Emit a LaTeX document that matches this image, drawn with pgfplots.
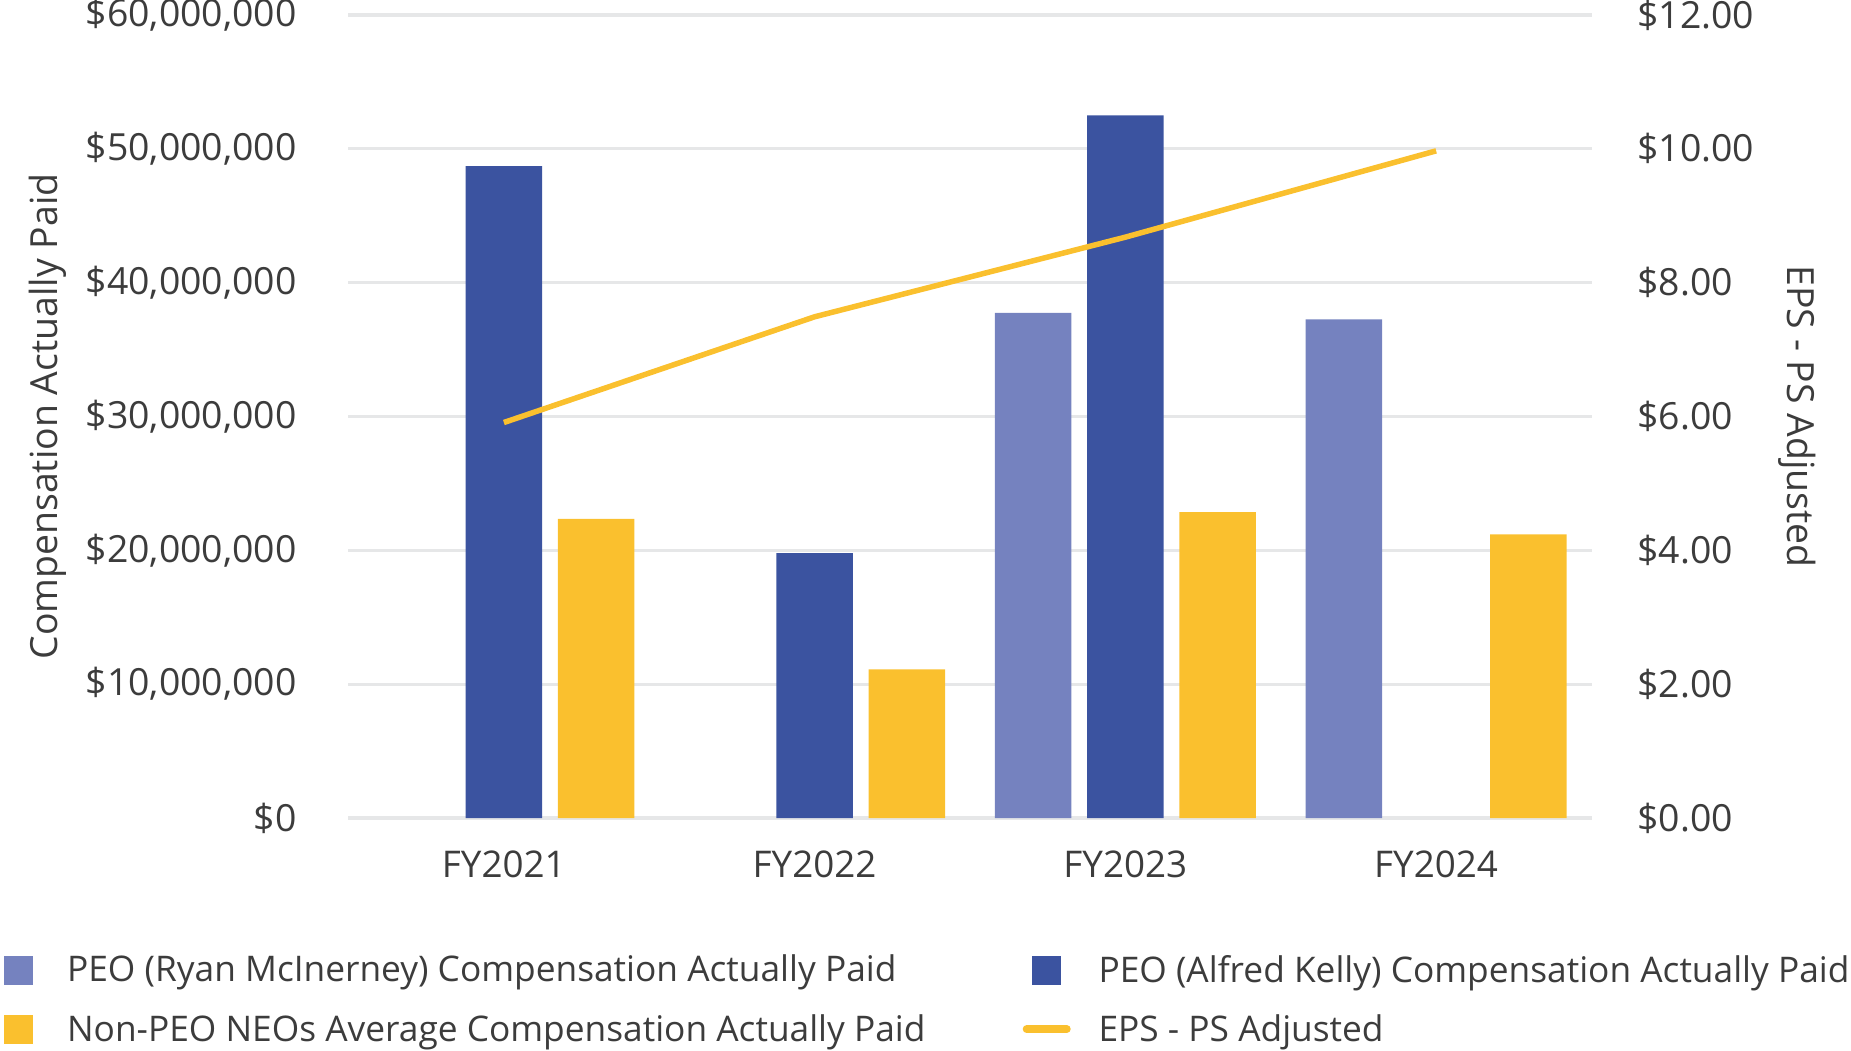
\documentclass[border=0pt]{standalone}
\usepackage{fontspec}
\setmainfont{Open Sans}
\usepackage{pgfplots}
\pgfplotsset{compat=1.18}

\definecolor{ryan}{RGB}{117,130,191}
\definecolor{alfred}{RGB}{59,83,160}
\definecolor{neo}{RGB}{250,192,46}
\definecolor{gridgray}{RGB}{230,231,232}
\definecolor{textgray}{RGB}{60,60,60}

\newcommand\chartfont{\fontsize{18.7bp}{22bp}\selectfont}
\newcommand\xfont{\fontsize{18.4bp}{22bp}\selectfont}
\newcommand\legfont{\fontsize{17.65bp}{21bp}\selectfont}

\pgfplotsset{
  basechart/.style={
    at={(0,0)}, anchor=south west,
    scale only axis, width=621.5bp, height=401.5bp,
    xmin=-0.5, xmax=3.5,
    axis line style={draw=none},
    major tick length=0pt,
    tick label style={font=\chartfont, text=textgray},
  },
}

\begin{document}
\begin{tikzpicture}
  % bars: compensation actually paid (millions of dollars)
  \begin{axis}[
      basechart,
      ymin=0, ymax=60,
      xtick={0,1,2,3},
      xticklabels={FY2021,FY2022,FY2023,FY2024},
      ytick={0,10,20,30,40,50,60},
      yticklabels={{\$0},{\$10,000,000},{\$20,000,000},{\$30,000,000},{\$40,000,000},{\$50,000,000},{\$60,000,000}},
      ymajorgrids,
      grid style={draw=gridgray, line width=1.6bp},
      yticklabel style={anchor=east, inner sep=0pt, xshift=-25.75bp},
      xticklabel style={anchor=north, inner sep=0pt, yshift=-16bp, font=\xfont},
      ylabel={Compensation Actually Paid},
      every axis y label/.style={at={([xshift=-150.25bp]axis description cs:0,0.5)}, rotate=90, anchor=center, font=\chartfont, text=textgray},
      legend columns=2,
      legend cell align=left,
      legend image code/.code={\fill[#1] (-7.25bp,-7.25bp) rectangle (7.25bp,7.25bp);},
      legend style={
        at={([xshift=-172.6bp, yshift=-68.3bp]axis description cs:0,0)},
        anchor=north west, draw=none, fill=none, inner sep=0pt,
        font=\legfont, text=textgray,
        nodes={inner sep=0pt},
        row sep=14.6bp,
        /tikz/column 1/.style={column sep=17.2bp},
        /tikz/column 2/.style={column sep=48.6bp},
        /tikz/column 3/.style={column sep=13.9bp},
      },
    ]
    \addplot[ybar, bar width=0.246, bar shift=-0.297, fill=ryan, draw=none]
      coordinates {(2,37.75) (3,37.25)};
    \addlegendentry{PEO (Ryan McInerney) Compensation Actually Paid}
    \addplot[ybar, bar width=0.246, bar shift=0, fill=alfred, draw=none]
      coordinates {(0,48.7) (1,19.8) (2,52.5)};
    \addlegendentry{PEO (Alfred Kelly) Compensation Actually Paid}
    \addplot[ybar, bar width=0.246, bar shift=0.297, fill=neo, draw=none]
      coordinates {(0,22.35) (1,11.1) (2,22.85) (3,21.2)};
    \addlegendentry{Non-PEO NEOs Average Compensation Actually Paid}
    \addlegendimage{legend image code/.code={\draw[neo, line width=4bp, line cap=round] (-10bp,0) -- (10bp,0);}}
    \addlegendentry{EPS - PS Adjusted}
  \end{axis}
  % line: EPS on the right axis
  \begin{axis}[
      basechart,
      ymin=0, ymax=12,
      axis x line=none,
      axis y line*=right,
      ytick={0,2,4,6,8,10,12},
      yticklabels={{\$0.00},{\$2.00},{\$4.00},{\$6.00},{\$8.00},{\$10.00},{\$12.00}},
      yticklabel style={anchor=west, inner sep=0pt, xshift=22.7bp},
      ylabel={EPS - PS Adjusted},
      every axis y label/.style={at={([xshift=102.7bp]axis description cs:1,0.5)}, rotate=-90, anchor=center, font=\chartfont, text=textgray},
    ]
    \addplot[neo, line width=2.75bp] coordinates {(0,5.91) (1,7.49) (2,8.68) (3,9.97)};
  \end{axis}
  \pgfresetboundingbox
  \path (-174.25bp,-116.5bp) rectangle (751.25bp,409bp);
\end{tikzpicture}
\end{document}
